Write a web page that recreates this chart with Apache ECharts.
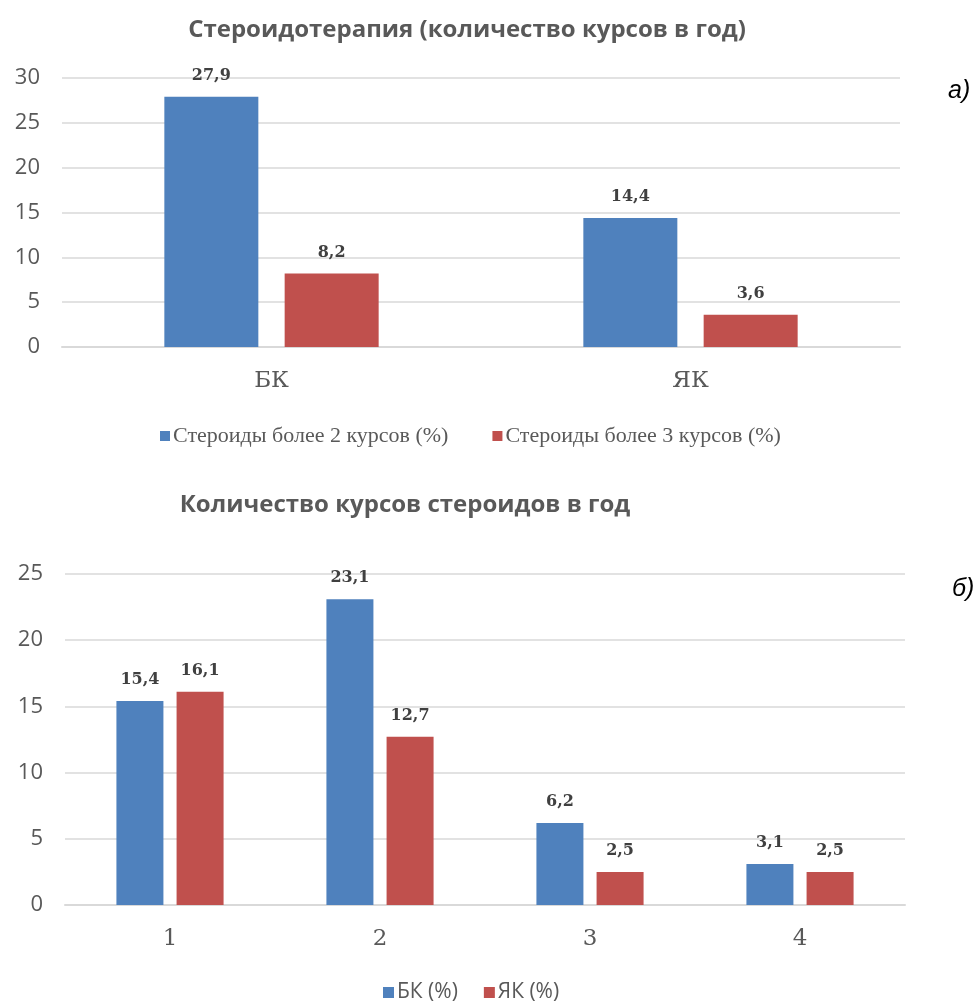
<!DOCTYPE html>
<html>
<head>
<meta charset="utf-8">
<script src="https://cdn.jsdelivr.net/npm/echarts@6/dist/echarts.min.js"></script>
<style>
html,body{margin:0;padding:0;background:#fff;}
#chart{width:980px;height:1003px;}
</style>
</head>
<body>
<div id="chart"></div>
<script>
// Chart a)
const titleA = 'Стероидотерапия (количество курсов в год)';
const categoriesA = ['БК', 'ЯК'];
const seriesA1Name = 'Стероиды более 2 курсов (%)';
const seriesA2Name = 'Стероиды более 3 курсов (%)';
const seriesA1 = [27.9, 14.4];
const seriesA2 = [8.2, 3.6];
const yTicksA = { min: 0, max: 30, interval: 5 };

// Chart б)
const titleB = 'Количество курсов стероидов в год';
const categoriesB = ['1', '2', '3', '4'];
const seriesB1Name = 'БК (%)';
const seriesB2Name = 'ЯК (%)';
const seriesB1 = [15.4, 23.1, 6.2, 3.1];
const seriesB2 = [16.1, 12.7, 2.5, 2.5];
const yTicksB = { min: 0, max: 25, interval: 5 };

const BLUE = '#4F81BD';
const RED = '#C0504D';
const GRID = '#d9d9d9';
const TXT = '#595959';

const comma = p => String(p.value).replace('.', ',');

const dataLabel = {
  show: true, position: 'top', distance: 13,
  formatter: comma,
  fontFamily: 'DejaVu Serif', fontWeight: 'bold', fontSize: 16, color: '#404040'
};

function yAxis(idx, t) {
  return {
    type: 'value', gridIndex: idx, min: t.min, max: t.max, interval: t.interval,
    axisLine: { show: false }, axisTick: { show: false },
    axisLabel: { fontFamily: 'Open Sans', fontSize: 22, color: TXT, margin: 22 },
    splitLine: { lineStyle: { color: GRID, width: 1.5 } }
  };
}
function xAxis(idx, cats) {
  return {
    type: 'category', gridIndex: idx, data: cats,
    axisLine: { lineStyle: { color: GRID, width: 2 } },
    axisTick: { show: false },
    axisLabel: { fontFamily: 'DejaVu Serif', fontSize: 23, color: TXT, margin: 23 }
  };
}

const chart = echarts.init(document.getElementById('chart'), null, { renderer: 'canvas' });
chart.setOption({
  animation: false,
  backgroundColor: '#fff',
  title: [
    { text: titleA, left: 462, top: 13, textAlign: 'center',
      textStyle: { fontFamily: 'Open Sans', fontWeight: 'bold', fontSize: 24, color: TXT } },
    { text: titleB, left: 400, top: 488, textAlign: 'center',
      textStyle: { fontFamily: 'Open Sans', fontWeight: 'bold', fontSize: 24, color: TXT } }
  ],
  legend: [
    { data: [seriesA1Name, seriesA2Name], left: 160, top: 425, icon: 'rect', padding: 0,
      itemWidth: 10, itemHeight: 10, itemGap: 44,
      textStyle: { fontFamily: 'Liberation Serif', fontSize: 22, color: TXT, padding: [0, 0, 0, -2] } },
    { data: [seriesB1Name, seriesB2Name], left: 383, top: 982, icon: 'rect', padding: 0,
      itemWidth: 11, itemHeight: 11, itemGap: 26,
      textStyle: { fontFamily: 'Open Sans', fontSize: 21, color: TXT, padding: [0, 0, 0, -2] } }
  ],
  grid: [
    { left: 62, right: 80, top: 78, bottom: 1003 - 347 },
    { left: 65, right: 75, top: 574, bottom: 1003 - 905 }
  ],
  xAxis: [xAxis(0, categoriesA), xAxis(1, categoriesB)],
  yAxis: [yAxis(0, yTicksA), yAxis(1, yTicksB)],
  series: [
    { name: seriesA1Name, type: 'bar', xAxisIndex: 0, yAxisIndex: 0, data: seriesA1,
      barWidth: 94, barGap: '28%', itemStyle: { color: BLUE }, label: dataLabel },
    { name: seriesA2Name, type: 'bar', xAxisIndex: 0, yAxisIndex: 0, data: seriesA2,
      barWidth: 94, barGap: '28%', itemStyle: { color: RED }, label: dataLabel },
    { name: seriesB1Name, type: 'bar', xAxisIndex: 1, yAxisIndex: 1, data: seriesB1,
      barWidth: 47, barGap: '28%', itemStyle: { color: BLUE }, label: dataLabel },
    { name: seriesB2Name, type: 'bar', xAxisIndex: 1, yAxisIndex: 1, data: seriesB2,
      barWidth: 47, barGap: '28%', itemStyle: { color: RED }, label: dataLabel }
  ],
  graphic: [
    { type: 'text', left: 948, top: 79,
      style: { text: 'а)', fontFamily: 'Liberation Sans', fontStyle: 'italic', fontSize: 25, fill: '#000' } },
    { type: 'text', left: 952, top: 577,
      style: { text: 'б)', fontFamily: 'Liberation Sans', fontStyle: 'italic', fontSize: 25, fill: '#000' } }
  ]
});
</script>
</body>
</html>
